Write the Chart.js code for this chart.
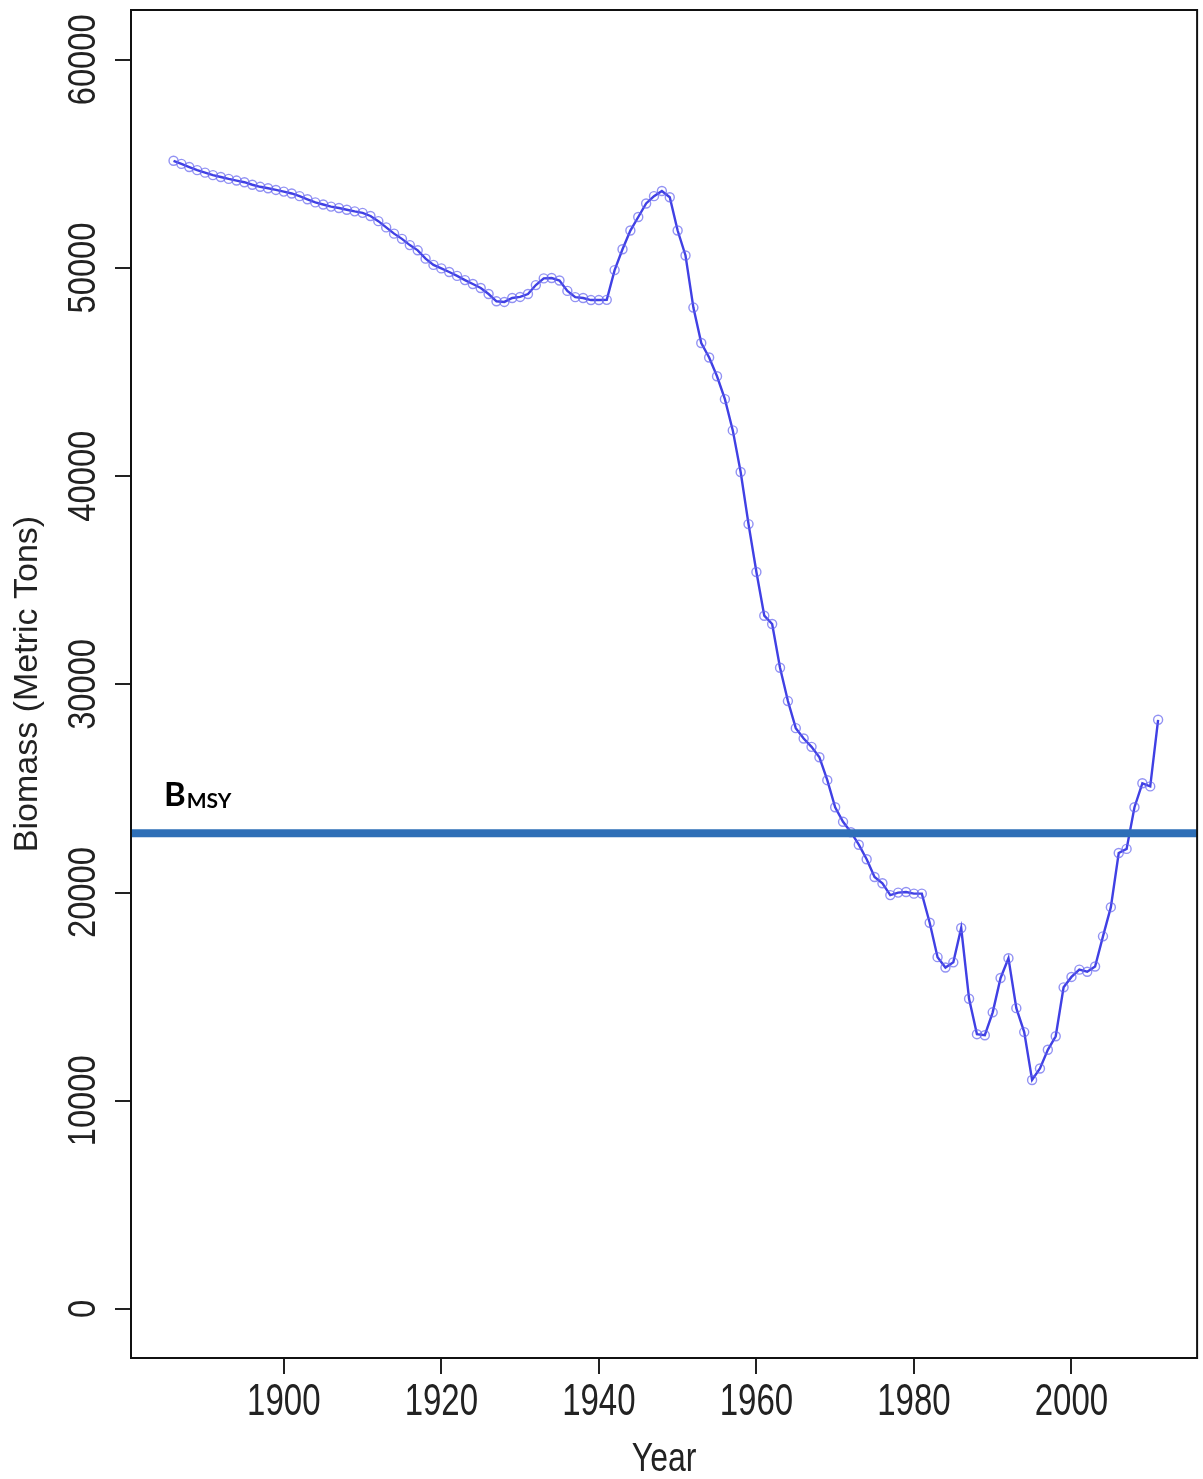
<!DOCTYPE html>
<html>
<head>
<meta charset="utf-8">
<script src="https://cdn.jsdelivr.net/npm/chart.js@4.4.1/dist/chart.umd.min.js"></script>
<style>
  html, body { margin: 0; padding: 0; background: #fff; }
  canvas { display: block; }
</style>
</head>
<body>
<canvas id="biomassChart" width="1203" height="1479"></canvas>
<script>
var years = [
  1886, 1887, 1888, 1889, 1890, 1891, 1892, 1893, 1894, 1895,
  1896, 1897, 1898, 1899, 1900, 1901, 1902, 1903, 1904, 1905,
  1906, 1907, 1908, 1909, 1910, 1911, 1912, 1913, 1914, 1915,
  1916, 1917, 1918, 1919, 1920, 1921, 1922, 1923, 1924, 1925,
  1926, 1927, 1928, 1929, 1930, 1931, 1932, 1933, 1934, 1935,
  1936, 1937, 1938, 1939, 1940, 1941, 1942, 1943, 1944, 1945,
  1946, 1947, 1948, 1949, 1950, 1951, 1952, 1953, 1954, 1955,
  1956, 1957, 1958, 1959, 1960, 1961, 1962, 1963, 1964, 1965,
  1966, 1967, 1968, 1969, 1970, 1971, 1972, 1973, 1974, 1975,
  1976, 1977, 1978, 1979, 1980, 1981, 1982, 1983, 1984, 1985,
  1986, 1987, 1988, 1989, 1990, 1991, 1992, 1993, 1994, 1995,
  1996, 1997, 1998, 1999, 2000, 2001, 2002, 2003, 2004, 2005,
  2006, 2007, 2008, 2009, 2010, 2011
];

var biomass = [
  55150, 55000, 54850, 54700, 54580, 54460, 54370, 54280, 54200, 54120,
  54000, 53900, 53830, 53750, 53670, 53580, 53450, 53300, 53150, 53050,
  52950, 52880, 52800, 52720, 52650, 52500, 52250, 51950, 51650, 51400,
  51100, 50850, 50450, 50150, 49980, 49810, 49620, 49420, 49230, 49040,
  48750, 48400, 48370, 48560, 48610, 48750, 49180, 49500, 49520, 49400,
  48900, 48600, 48560, 48460, 48460, 48470, 49900, 50900, 51800, 52450,
  53100, 53450, 53700, 53400, 51800, 50600, 48100, 46400, 45700, 44800,
  43700, 42200, 40200, 37700, 35400, 33300, 32900, 30800, 29200, 27900,
  27400, 27000, 26500, 25400, 24100, 23400, 22900, 22300, 21600, 20750,
  20450, 19880, 20000, 20030, 19950, 19950, 18550, 16900, 16400, 16650,
  18300, 14900, 13200, 13150, 14250, 15900, 16850, 14450, 13300, 11000,
  11550, 12450, 13100, 15450, 15950, 16300, 16200, 16450, 17900, 19300,
  21900, 22100, 24100, 25250, 25100, 28300
];

var bmsy = 22850;

var xTicks = [1900, 1920, 1940, 1960, 1980, 2000];
var yTicks = [0, 10000, 20000, 30000, 40000, 50000, 60000];

var xMin = 1880.6, xMax = 2015.95;
var yMin = -2353, yMax = 62392;

var FONT = "'Liberation Sans', Arial, sans-serif";
var INK = '#222';

// draws text squeezed along its own direction (the reference uses a narrow face)
function narrowText(ctx, text, x, y, angle, squeeze) {
    ctx.save();
    ctx.translate(x, y);
    ctx.rotate(angle);
    ctx.scale(squeeze, 1);
    ctx.fillText(text, 0, 0);
    ctx.restore();
}

// frame box, axis labels and the B_MSY label
var boxAndLabels = {
    id: 'boxAndLabels',
    afterDraw: function (chart) {
        var ctx = chart.ctx;
        var area = chart.chartArea;
        var xs = chart.scales.x;
        var ys = chart.scales.y;
        ctx.save();
        ctx.strokeStyle = '#111';
        ctx.lineWidth = 2;
        ctx.strokeRect(area.left, area.top, area.right - area.left, area.bottom - area.top);

        ctx.fillStyle = INK;
        ctx.textAlign = 'center';
        ctx.textBaseline = 'middle';
        ctx.font = '38px ' + FONT;
        yTicks.forEach(function (v) {
            narrowText(ctx, String(v), area.left - 46, ys.getPixelForValue(v), -Math.PI / 2, 0.86);
        });
        ctx.font = '44px ' + FONT;
        xTicks.forEach(function (v) {
            narrowText(ctx, String(v), xs.getPixelForValue(v), area.bottom + 45, 0, 0.75);
        });
        ctx.font = '40px ' + FONT;
        narrowText(ctx, 'Year', (area.left + area.right) / 2, area.bottom + 102, 0, 0.8);

        var yb = ys.getPixelForValue(bmsy);
        ctx.fillStyle = '#000';
        ctx.textAlign = 'left';
        ctx.textBaseline = 'alphabetic';
        ctx.font = 'bold 33px Lato, sans-serif';
        ctx.fillText('B', area.left + 33, yb - 27);
        var w = ctx.measureText('B').width;
        ctx.font = 'bold 21px Lato, sans-serif';
        ctx.fillText('MSY', area.left + 34 + w, yb - 25);
        ctx.restore();
    }
};

document.addEventListener('DOMContentLoaded', function () {
    var ctx = document.getElementById('biomassChart').getContext('2d');
    var points = years.map(function (yr, i) { return { x: yr, y: biomass[i] }; });

    new Chart(ctx, {
        type: 'line',
        data: {
            datasets: [
                {
                    label: 'Biomass',
                    data: points,
                    borderColor: '#4040e4',
                    borderWidth: 2.4,
                    pointRadius: 4.5,
                    pointStyle: 'circle',
                    pointBorderColor: 'rgba(100, 100, 238, 0.7)',
                    pointBackgroundColor: 'rgba(0, 0, 0, 0)',
                    pointBorderWidth: 1.4,
                    tension: 0,
                    order: 2
                },
                {
                    label: 'BMSY',
                    data: [{ x: xMin, y: bmsy }, { x: xMax, y: bmsy }],
                    borderColor: '#2e6fb7',
                    borderWidth: 8,
                    pointRadius: 0,
                    order: 1
                }
            ]
        },
        options: {
            responsive: false,
            animation: false,
            layout: { padding: { top: 10, right: 3, left: 0, bottom: 0 } },
            plugins: {
                legend: { display: false },
                tooltip: { enabled: false }
            },
            scales: {
                x: {
                    type: 'linear',
                    min: xMin,
                    max: xMax,
                    afterBuildTicks: function (s) {
                        s.ticks = xTicks.map(function (v) { return { value: v }; });
                    },
                    afterFit: function (s) { s.height = 121; },
                    grid: {
                        display: true,
                        drawOnChartArea: false,
                        drawTicks: true,
                        tickLength: 16,
                        color: INK,
                        lineWidth: 2
                    },
                    border: { display: false },
                    ticks: { display: false },
                    title: { display: false }
                },
                y: {
                    type: 'linear',
                    min: yMin,
                    max: yMax,
                    afterBuildTicks: function (s) {
                        s.ticks = yTicks.map(function (v) { return { value: v }; });
                    },
                    afterFit: function (s) { s.width = 131; },
                    grid: {
                        display: true,
                        drawOnChartArea: false,
                        drawTicks: true,
                        tickLength: 16,
                        color: INK,
                        lineWidth: 2
                    },
                    border: { display: false },
                    ticks: { display: false },
                    title: {
                        display: true,
                        text: 'Biomass (Metric Tons)',
                        color: INK,
                        font: { family: FONT, size: 34, lineHeight: 1.6 },
                        padding: 0
                    }
                }
            }
        },
        plugins: [boxAndLabels]
    });
});
</script>
</body>
</html>
